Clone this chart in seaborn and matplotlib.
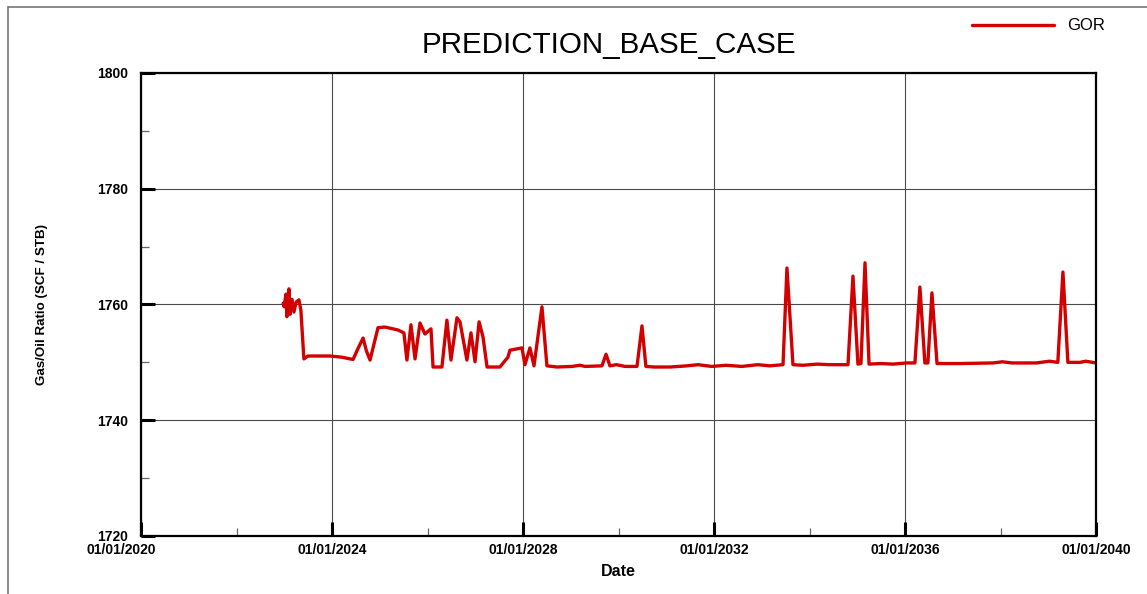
import matplotlib
matplotlib.use("Agg")
import matplotlib.pyplot as plt
import matplotlib.dates as mdates
from matplotlib.lines import Line2D
from matplotlib.transforms import ScaledTranslation
import seaborn as sns
import pandas as pd

# Gas/oil ratio forecast, base case
dates = [
    "2022-12-23", "2022-12-31", "2023-01-14", "2023-01-21", "2023-02-06",
    "2023-02-14", "2023-03-01", "2023-03-16", "2023-04-01", "2023-04-23",
    "2023-05-08", "2023-05-31", "2023-07-01", "2023-12-16", "2024-03-15",
    "2024-06-10", "2024-07-20", "2024-08-26", "2024-09-20", "2024-10-18",
    "2024-12-18", "2025-02-10", "2025-05-19", "2025-07-04", "2025-07-27",
    "2025-08-27", "2025-09-27", "2025-11-04", "2025-12-12", "2026-01-27",
    "2026-02-12", "2026-04-21", "2026-05-29", "2026-06-29", "2026-08-14",
    "2026-09-06", "2026-10-29", "2026-11-29", "2026-12-30", "2027-01-30",
    "2027-03-01", "2027-04-01", "2027-07-08", "2027-09-08", "2027-09-23",
    "2027-12-24", "2028-01-16", "2028-02-23", "2028-03-25", "2028-05-25",
    "2028-07-02", "2028-09-17", "2029-01-10", "2029-03-12", "2029-04-20",
    "2029-08-27", "2029-09-27", "2029-10-27", "2029-12-15", "2030-02-20",
    "2030-05-22", "2030-06-29", "2030-07-29", "2030-10-01", "2031-02-01",
    "2031-06-08", "2031-09-01", "2031-12-15", "2032-04-01", "2032-08-01",
    "2032-12-01", "2033-03-01", "2033-06-12", "2033-07-12", "2033-08-27",
    "2033-11-10", "2034-03-01", "2034-06-01", "2034-10-22", "2034-11-29",
    "2035-01-06", "2035-01-29", "2035-03-01", "2035-04-01", "2035-07-01",
    "2035-10-01", "2036-01-15", "2036-03-17", "2036-04-24", "2036-06-01",
    "2036-06-24", "2036-07-25", "2036-09-02", "2037-03-01", "2037-11-04",
    "2038-01-15", "2038-04-01", "2038-10-01", "2039-01-10", "2039-03-15",
    "2039-04-23", "2039-05-31", "2039-09-01", "2039-10-15", "2040-01-01",
]
gor = [
    1760.2, 1759.6, 1761.8, 1757.9, 1762.7,
    1758.3, 1760.9, 1758.7, 1760.4, 1760.8,
    1759.0, 1750.6, 1751.1, 1751.1, 1750.9,
    1750.5, 1752.5, 1754.2, 1752.0, 1750.4,
    1756.0, 1756.1, 1755.6, 1755.1, 1750.4,
    1756.5, 1750.6, 1756.8, 1754.9, 1755.8,
    1749.2, 1749.2, 1757.3, 1750.4, 1757.7,
    1757.0, 1750.4, 1755.1, 1750.1, 1757.0,
    1754.4, 1749.2, 1749.2, 1750.9, 1752.1,
    1752.5, 1749.6, 1752.5, 1749.4, 1759.6,
    1749.4, 1749.2, 1749.3, 1749.5, 1749.3,
    1749.4, 1751.4, 1749.4, 1749.6, 1749.3,
    1749.3, 1756.3, 1749.3, 1749.2, 1749.2,
    1749.4, 1749.6, 1749.3, 1749.5, 1749.3,
    1749.6, 1749.4, 1749.6, 1766.3, 1749.6,
    1749.5, 1749.7, 1749.6, 1749.6, 1764.9,
    1749.7, 1749.8, 1767.2, 1749.7, 1749.8,
    1749.7, 1749.9, 1749.9, 1763.0, 1749.9,
    1749.9, 1762.0, 1749.8, 1749.8, 1749.9,
    1750.1, 1749.9, 1749.9, 1750.2, 1750.0,
    1765.6, 1750.0, 1750.0, 1750.2, 1749.9,
]

x_major = ["2020-01-01", "2024-01-01", "2028-01-01", "2032-01-01", "2036-01-01", "2040-01-01"]
x_minor = ["2022-01-01", "2026-01-01", "2030-01-01", "2034-01-01", "2038-01-01"]
y_major = [1720, 1740, 1760, 1780, 1800]
y_minor = [1730, 1750, 1770, 1790]

df = pd.DataFrame({"Date": pd.to_datetime(dates), "GOR": gor})

sns.set_theme(style="white")
plt.rcParams["font.family"] = ["Liberation Sans", "DejaVu Sans"]

fig = plt.figure(figsize=(11.47, 5.94), dpi=100)
ax = fig.add_axes([141 / 1147, 1 - 536 / 594, (1096 - 141) / 1147, (536 - 73) / 594])

sns.lineplot(data=df, x="Date", y="GOR", ax=ax, color="#d20000",
             linewidth=2.4, label="GOR", legend=False,
             solid_joinstyle="round", solid_capstyle="round")

ax.set_xlim(pd.Timestamp("2020-01-01"), pd.Timestamp("2040-01-01"))
ax.set_ylim(1720, 1800)

ax.xaxis.set_major_locator(matplotlib.ticker.FixedLocator(mdates.date2num(pd.to_datetime(x_major))))
ax.xaxis.set_minor_locator(matplotlib.ticker.FixedLocator(mdates.date2num(pd.to_datetime(x_minor))))
ax.xaxis.set_major_formatter(mdates.DateFormatter("%m/%d/%Y"))
ax.set_yticks(y_major)
ax.set_yticks(y_minor, minor=True)

ax.grid(True, which="major", color="#4a4a4a", linewidth=0.8)
ax.set_axisbelow(True)

for s in ax.spines.values():
    s.set_color("black")
    s.set_linewidth(1.6)

ax.tick_params(axis="both", which="both", bottom=True, left=True, top=False, right=False)
ax.tick_params(axis="both", which="major", direction="in", length=10, width=2.2,
               color="black", labelsize=10, labelcolor="black")
ax.tick_params(axis="y", which="major", pad=9)
ax.tick_params(axis="x", which="major", pad=5)
ax.tick_params(axis="both", which="minor", direction="in", length=6, width=0.9,
               color="#666666")
for lbl in ax.get_xticklabels() + ax.get_yticklabels():
    lbl.set_fontweight("bold")

# first date label nudged left so it clears the bottom y label
first = ax.get_xticklabels()[0]
first.set_transform(first.get_transform() + ScaledTranslation(-0.2, 0, fig.dpi_scale_trans))

ax.set_xlabel("Date", fontsize=11.5, fontweight="bold", color="black", labelpad=5)
ax.set_ylabel("Gas/Oil Ratio (SCF / STB)", fontsize=9.6, fontweight="bold", color="black")
ax.yaxis.set_label_coords(-0.097, 0.5)

fig.text(609 / 1147, 1 - 45 / 594, "PREDICTION_BASE_CASE", fontsize=21.3,
         ha="center", va="center", color="black")

handle = Line2D([], [], color="#d20000", linewidth=2.4)
fig.legend([handle], ["GOR"], loc="center left",
           bbox_to_anchor=(972 / 1147, 1 - 26 / 594), frameon=False,
           fontsize=12, handlelength=4.9, handletextpad=0.8,
           borderpad=0, borderaxespad=0, labelcolor="black")

# page frame lines
fig.add_artist(Line2D([8 / 1147, 8 / 1147], [0, 1 - 7 / 594], color="#777777",
                      linewidth=1.2, transform=fig.transFigure))
fig.add_artist(Line2D([8 / 1147, 1], [1 - 7 / 594, 1 - 7 / 594], color="#777777",
                      linewidth=1.2, transform=fig.transFigure))

fig.savefig("out.png", dpi=100, facecolor="white")
